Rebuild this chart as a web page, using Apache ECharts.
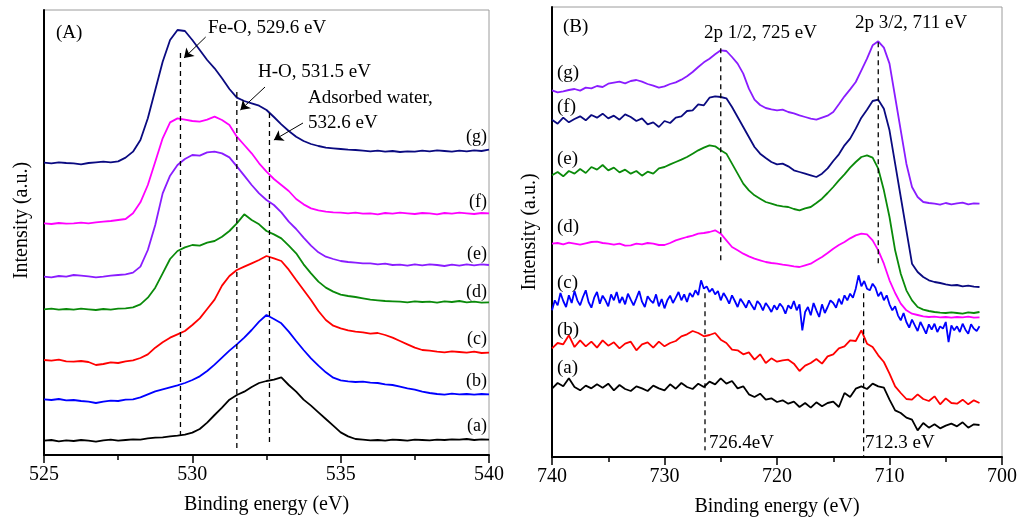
<!DOCTYPE html>
<html>
<head>
<meta charset="utf-8">
<script src="https://cdn.jsdelivr.net/npm/echarts@6/dist/echarts.min.js"></script>
<style>
  html, body { margin: 0; padding: 0; background: #ffffff; }
  #chart { width: 1033px; height: 523px; }
</style>
</head>
<body>
<div id="chart"></div>
<script>
// ---------- O 1s spectra (panel A), offset-stacked intensities ----------
const energyO1s = [525,525.25,525.5,525.75,526,526.25,526.5,526.75,527,527.25,527.5,527.75,528,528.25,528.5,528.75,529,529.25,529.5,529.75,530,530.25,530.5,530.75,531,531.25,531.5,531.75,532,532.25,532.5,532.75,533,533.25,533.5,533.75,534,534.25,534.5,534.75,535,535.25,535.5,535.75,536,536.25,536.5,536.75,537,537.25,537.5,537.75,538,538.25,538.5,538.75,539,539.25,539.5,539.75,540];

const o1sA = [43,45,41,44,42,45,43,40,44,46,43,45,47,46,50,52,53,56,58,61,67,78,97,120,142,166,180,190,204,216,222,226,233,210,190,166,148,128,108,88,68,56,48,46,44,45,43,46,45,43,46,45,44,46,45,47,46,48,45,47,46];
const o1sB = [167,165,168,164,165,162,160,156,160,163,162,166,167,173,182,191,197,203,209,216,225,236,252,271,292,313,332,352,375,400,420,408,395,370,342,315,290,268,248,232,224,221,219,220,217,216,212,210,205,200,196,190,186,183,181,184,182,183,181,183,182];
const o1sC = [285,283,286,281,280,282,279,270,273,278,276,281,284,291,302,322,338,352,362,372,390,410,438,466,508,537,555,565,575,585,597,590,582,556,525,495,465,432,405,388,380,374,370,368,364,366,360,352,342,332,322,315,313,310,308,311,309,307,310,306,307];
const o1sD = [437,439,436,438,436,439,437,435,438,436,439,440,443,452,472,502,545,588,612,623,630,628,637,642,655,672,695,722,705,692,672,662,650,628,605,572,545,520,502,490,481,477,474,470,466,464,462,461,460,458,461,459,460,457,461,459,462,458,460,457,458];
const o1sE = [535,533,537,535,540,538,536,533,535,538,540,542,547,565,615,690,785,838,870,888,900,898,908,910,905,893,866,838,810,785,765,750,728,700,678,652,628,608,595,588,582,579,577,575,575,572,574,570,571,568,572,569,572,570,567,571,568,572,569,572,570];
const o1sF = [695,693,696,694,695,697,695,698,700,702,705,708,725,758,810,880,950,998,1010,1006,1002,1000,1006,1015,1005,990,955,930,905,875,850,828,810,792,768,752,740,734,730,728,727,725,727,724,725,722,726,724,727,725,723,726,725,722,726,724,727,725,723,726,725];
const o1sG = [877,875,878,876,875,872,876,878,880,878,881,892,910,945,1010,1095,1180,1245,1275,1272,1245,1215,1185,1160,1130,1098,1072,1062,1055,1048,1035,1014,992,972,955,942,933,927,922,920,918,916,915,913,911,913,910,912,909,911,910,913,911,914,912,910,913,911,914,912,916];

// ---------- Fe 2p spectra (panel B), offset-stacked intensities ----------
const energyFe2p = [740,739.5,739,738.5,738,737.5,737,736.5,736,735.5,735,734.5,734,733.5,733,732.5,732,731.5,731,730.5,730,729.5,729,728.5,728,727.5,727,726.5,726,725.5,725,724.5,724,723.5,723,722.5,722,721.5,721,720.5,720,719.5,719,718.5,718,717.5,717,716.5,716,715.5,715,714.5,714,713.5,713,712.5,712,711.5,711,710.5,710,709.5,709,708.5,708,707.5,707,706.5,706,705.5,705,704.5,704,703.5,703,702.5,702];
// finer sampling for the noisiest scan (c)
const energyFe2pFine = [740,739.75,739.5,739.25,739,738.75,738.5,738.25,738,737.75,737.5,737.25,737,736.75,736.5,736.25,736,735.75,735.5,735.25,735,734.75,734.5,734.25,734,733.75,733.5,733.25,733,732.75,732.5,732.25,732,731.75,731.5,731.25,731,730.75,730.5,730.25,730,729.75,729.5,729.25,729,728.75,728.5,728.25,728,727.75,727.5,727.25,727,726.75,726.5,726.25,726,725.75,725.5,725.25,725,724.75,724.5,724.25,724,723.75,723.5,723.25,723,722.75,722.5,722.25,722,721.75,721.5,721.25,721,720.75,720.5,720.25,720,719.75,719.5,719.25,719,718.75,718.5,718.25,718,717.75,717.5,717.25,717,716.75,716.5,716.25,716,715.75,715.5,715.25,715,714.75,714.5,714.25,714,713.75,713.5,713.25,713,712.75,712.5,712.25,712,711.75,711.5,711.25,711,710.75,710.5,710.25,710,709.75,709.5,709.25,709,708.75,708.5,708.25,708,707.75,707.5,707.25,707,706.75,706.5,706.25,706,705.75,705.5,705.25,705,704.75,704.5,704.25,704,703.75,703.5,703.25,703,702.75,702.5,702.25,702];

const fe2pA = [205,222,212,236,210,200,214,206,218,208, 220,200,216,204,198,212,206,198,214,206, 200,218,205,222,210,204,220,210,226,218, 236,220,228,206,212,188,180,190,172,176, 165,170,160,166,150,162,148,164,152,162, 166,150,192,180,205,212,204,220,212,208, 172,140,132,118,112,80,102,88,98,86, 94,100,92,104,88,98,96];
const fe2pB = [326,342,338,365,330,350,332,346,328,350, 334,344,326,340,346,320,338,344,328,346, 332,342,348,362,368,378,372,362,366,372, 352,342,322,320,308,314,292,308,282,296, 286,290,292,280,258,274,282,294,280,302, 308,326,332,350,348,380,340,330,305,285, 250,212,192,174,172,188,174,168,182,158, 176,162,160,172,158,170,162];
const fe2pC = [440,470,455,492,468,450,485,462,498,470,455,480,500,465,448,478,495,460,484,470,
  452,488,470,495,462,480,458,490,472,455,476,498,466,450,482,470,462,488,452,474,
  446,470,484,462,478,495,470,488,465,492,480,500,486,530,505,512,495,505,488,498,
  470,492,478,460,485,468,450,475,462,448,470,455,442,468,458,440,462,450,435,455,
  442,460,450,430,455,445,468,440,458,380,435,450,425,462,440,420,458,432,450,470,
  462,448,475,458,485,470,490,478,505,545,512,528,505,500,520,508,482,495,470,485,
  458,440,452,425,410,432,405,388,412,395,378,405,388,370,398,382,400,375,392,385,
  405,345,395,380,392,375,400,382,370,398,385,378,392];
const fe2pD = [640,642,638,643,640,637,641,645,646,642, 640,637,640,634,635,640,638,642,640,636, 636,642,650,655,660,664,670,672,675,680, 670,650,630,620,610,602,595,590,585,582, 580,577,575,572,570,575,580,590,600,612, 625,636,645,656,665,670,668,650,620,580, 530,492,460,440,430,426,422,420,421,419, 420,418,420,419,421,418,419];
const fe2pE = [845,855,842,858,850,864,852,870,862,876, 860,868,854,862,850,858,844,856,850,866, 870,878,885,892,900,910,920,928,935,932, 920,910,880,850,820,800,785,775,765,760, 755,752,750,744,740,746,750,762,775,792, 810,830,848,868,885,900,905,898,865,800, 720,620,550,500,470,450,442,438,435,433, 432,434,432,430,434,432,435];
const fe2pF = [1012,1000,1018,1004,1014,1022,1010,1026,1018,1030, 1016,1024,1012,1028,1020,1008,1016,998,1004,990, 1008,1002,1018,1022,1038,1040,1058,1055,1078,1082, 1080,1076,1050,1020,990,960,930,910,897,885, 878,880,872,860,855,850,845,840,850,866, 888,908,935,955,985,1018,1042,1068,1072,1045, 980,880,780,680,580,555,540,530,525,522, 518,515,516,512,514,511,510];
const fe2pG = [1100,1094,1097,1101,1104,1099,1108,1106,1113,1110, 1120,1123,1126,1121,1128,1131,1126,1119,1114,1108, 1112,1119,1124,1132,1142,1155,1170,1184,1195,1208, 1220,1218,1200,1180,1150,1105,1072,1056,1047,1043, 1040,1042,1035,1031,1025,1020,1015,1012,1018,1024, 1035,1058,1082,1103,1125,1160,1195,1235,1247,1228, 1180,1080,980,880,810,780,765,762,760,757, 762,758,761,763,758,761,760];

// Sample labels and reference binding energies
const sampleLabels = ['(a)', '(b)', '(c)', '(d)', '(e)', '(f)', '(g)'];
const o1sPeaks = [529.6, 531.5, 532.6];          // Fe-O, H-O, adsorbed water
const fe2pPeaks = [725, 711, 726.4, 712.3];      // 2p1/2, 2p3/2 and shifted positions
const o1sNotes = ['Fe-O, 529.6 eV', 'H-O, 531.5 eV', 'Adsorbed water,', '532.6 eV'];
const fe2pNotes = ['2p 1/2, 725 eV', '2p 3/2, 711 eV', '726.4eV', '712.3 eV'];

// ---------- styling ----------
const SERIF = '"Liberation Serif", "Times New Roman", serif';
const COL = { black: '#000000', blue: '#0000ff', red: '#ff0000', green: '#0a8a0a',
              purple: '#8a1cff', magenta: '#ff00ff', navy: '#0a0a80' };
const colorsO1s = [COL.black, COL.blue, COL.red, COL.green, COL.purple, COL.magenta, COL.navy];
const colorsFe2p = [COL.black, COL.red, COL.blue, COL.magenta, COL.green, COL.navy, COL.purple];

const chart = echarts.init(document.getElementById('chart'), null, { renderer: 'canvas' });

function spectrum(xs, ys, color, idx) {
  return {
    type: 'line', xAxisIndex: idx, yAxisIndex: idx,
    data: xs.map((x, i) => [x, ys[i]]),
    symbol: 'none', showSymbol: false, silent: true, z: 2,
    lineStyle: { color: color, width: 1.8 }
  };
}

function guide(energy, yTop, yBottom, idx, arrows) {
  const s = {
    type: 'line', xAxisIndex: idx, yAxisIndex: idx,
    data: [[energy, yTop], [energy, yBottom]],
    symbol: 'none', showSymbol: false, silent: true, z: 3,
    lineStyle: { color: '#000', width: 1.3, type: [5, 4] }
  };
  if (arrows) {
    s.markLine = {
      silent: true, animation: false,
      symbol: ['none', 'arrow'], symbolSize: 9,
      label: { show: false },
      lineStyle: { color: '#000', width: 1, type: 'solid' },
      data: arrows
    };
  }
  return s;
}

function axisX(idx, min, max, interval, inverse) {
  return {
    type: 'value', gridIndex: idx, min: min, max: max, interval: interval, inverse: inverse,
    name: 'Binding energy (eV)', nameLocation: 'middle', nameGap: 40,
    nameTextStyle: { fontFamily: SERIF, fontSize: 20, color: '#000' },
    axisLine: { show: true, onZero: false, lineStyle: { color: '#000', width: 2 } },
    axisTick: { show: true, inside: false, length: 8, lineStyle: { color: '#000', width: 1.5 } },
    minorTick: { show: true, splitNumber: 2, length: 5, lineStyle: { color: '#000', width: 1.5 } },
    axisLabel: { fontFamily: SERIF, fontSize: 20, color: '#000', margin: 10 },
    splitLine: { show: false }, minorSplitLine: { show: false }
  };
}

function axisY(idx, max, lift) {
  return {
    type: 'value', gridIndex: idx, min: 0, max: max,
    name: 'Intensity (a.u.)', nameLocation: 'middle', nameGap: 12,
    nameTextStyle: { fontFamily: SERIF, fontSize: 20, color: '#000', padding: [0, 0, 0, lift] },
    axisLine: { show: true, onZero: false, lineStyle: { color: '#000', width: 2 } },
    axisTick: { show: false }, axisLabel: { show: false }, splitLine: { show: false }
  };
}

function text(x, y, str, size, align) {
  return {
    type: 'text', x: x, y: y, silent: true, z: 10,
    style: { text: str, font: size + 'px ' + SERIF, fill: '#000',
             textAlign: align || 'left', textVerticalAlign: 'middle' }
  };
}

const seriesList = [];
[o1sA, o1sB, o1sC, o1sD, o1sE, o1sF, o1sG].forEach((ys, i) =>
  seriesList.push(spectrum(energyO1s, ys, colorsO1s[i], 0)));
[fe2pA, fe2pB, fe2pC, fe2pD, fe2pE, fe2pF, fe2pG].forEach((ys, i) =>
  seriesList.push(spectrum(ys === fe2pC ? energyFe2pFine : energyFe2p, ys, colorsFe2p[i], 1)));

// Dashed reference lines with their annotation arrows
seriesList.push(guide(o1sPeaks[0], 1206, 45, 0, [
  [{ coord: [o1sPeaks[0] + 0.85, 1254] }, { coord: [o1sPeaks[0] + 0.12, 1191] }]
]));
seriesList.push(guide(o1sPeaks[1], 1089, 15, 0, [
  [{ coord: [532.45, 1104] }, { coord: [o1sPeaks[1] + 0.12, 1035] }]
]));
seriesList.push(guide(o1sPeaks[2], 1026, 39, 0, [
  [{ coord: [533.73, 996] }, { coord: [o1sPeaks[2] + 0.15, 945] }]
]));
seriesList.push(guide(fe2pPeaks[0], 1226, 584, 1));
seriesList.push(guide(fe2pPeaks[1], 1244, 581, 1));
seriesList.push(guide(fe2pPeaks[2], 491, 20, 1));
seriesList.push(guide(fe2pPeaks[3], 491, 0, 1));

const labelYA = [426, 381, 339, 292, 254, 202, 137];
const labelYB = [368, 330, 283, 227, 159, 107, 73];

const graphics = [
  text(56, 33, '(A)', 19),
  text(208, 28, o1sNotes[0], 19),
  text(258, 72, o1sNotes[1], 19),
  text(308, 98, o1sNotes[2], 19),
  text(308, 123, o1sNotes[3], 19),
  text(563, 27, '(B)', 19),
  text(704, 33, fe2pNotes[0], 19),
  text(855, 23, fe2pNotes[1], 19),
  text(709, 443, fe2pNotes[2], 19),
  text(865, 443, fe2pNotes[3], 19)
];
sampleLabels.forEach((lab, i) => {
  graphics.push(text(487, labelYA[i], lab, 18, 'right'));
  graphics.push(text(557, labelYB[i], lab, 19, 'left'));
});

chart.setOption({
  animation: false,
  backgroundColor: '#ffffff',
  grid: [
    { left: 44, top: 10, width: 445, height: 445, show: true, borderColor: '#9c9c9c', borderWidth: 1, backgroundColor: 'transparent' },
    { left: 552, top: 7, width: 450, height: 450, show: true, borderColor: '#9c9c9c', borderWidth: 1, backgroundColor: 'transparent' }
  ],
  xAxis: [axisX(0, 525, 540, 5, false), axisX(1, 700, 740, 10, true)],
  yAxis: [axisY(0, 1335, 24), axisY(1, 1350, 0)],
  series: seriesList,
  graphic: graphics
});
</script>
</body>
</html>
